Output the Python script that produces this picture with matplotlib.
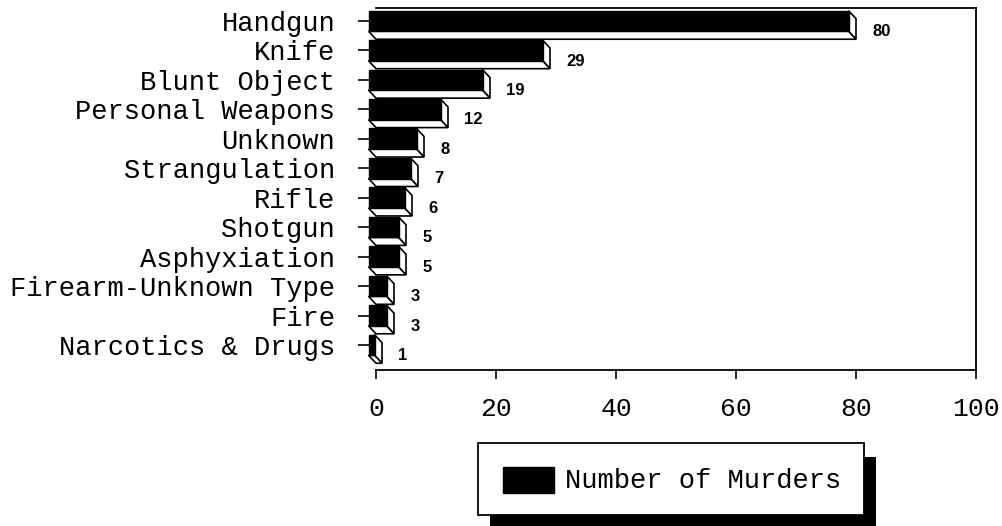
import matplotlib
matplotlib.use("Agg")
import matplotlib.pyplot as plt
from matplotlib.patches import Polygon, Rectangle

categories = ["Handgun", "Knife", "Blunt Object", "Personal Weapons", "Unknown",
              "Strangulation", "Rifle", "Shotgun", "Asphyxiation",
              "Firearm-Unknown Type", "Fire", "Narcotics & Drugs"]
murders = [80, 29, 19, 12, 8, 7, 6, 5, 5, 3, 3, 1]
x_ticks = [0, 20, 40, 60, 80, 100]
series_name = "Number of Murders"

W, H = 1002, 526
LABEL_FONT = "Liberation Mono"

fig = plt.figure(figsize=(W / 100, H / 100), dpi=100)
ax = fig.add_axes([376 / W, (H - 370) / H, 600 / W, 362 / H])
ax.spines["left"].set_position(("outward", 5.0))
ax.spines["left"].set_visible(False)
ax.set_xlim(0, 100)
ax.set_ylim(11.85, -0.44)

dx = 1.25   # depth in x (data units)
dy = 0.27   # depth in y (data units)
h = 0.70    # front face height

ypos = list(range(len(categories)))
ax.barh(ypos, murders, left=-dx, height=h, color="black", edgecolor="black",
        linewidth=1.0, clip_on=False, zorder=3)
for c, v in zip(ypos, murders):
    top = c - h / 2
    bot = c + h / 2
    side = Polygon([(v - dx, top), (v, top + dy), (v, bot + dy), (v - dx, bot)],
                   closed=True, facecolor="white", edgecolor="black",
                   linewidth=1.2, clip_on=False, zorder=2)
    bottom = Polygon([(-dx, bot), (v - dx, bot), (v, bot + dy), (0, bot + dy)],
                     closed=True, facecolor="white", edgecolor="black",
                     linewidth=1.2, clip_on=False, zorder=2)
    ax.add_patch(side)
    ax.add_patch(bottom)
    ax.text(v + 2.7, c + 0.36, str(v), ha="left", va="center",
            fontsize=12, fontweight="bold", family="Liberation Sans")

ax.set_yticks(ypos)
ax.set_yticklabels(categories, fontsize=19.5, family=LABEL_FONT)
ax.set_xticks(x_ticks)
ax.set_xticklabels([str(t) for t in x_ticks], fontsize=19, family=LABEL_FONT)

for s in ["top", "right", "bottom"]:
    ax.spines[s].set_linewidth(1.3)
ax.tick_params(axis="y", length=7.9, width=1.2, pad=16.5)
ax.tick_params(axis="x", length=6.5, width=1.2, pad=13.0)


def fx(px):
    return px / W


def fy(py):
    return (H - py) / H


# legend with drop shadow
shadow = Rectangle((fx(490), fy(560)), fx(876) - fx(490), fy(457) - fy(560),
                   transform=fig.transFigure, facecolor="black", edgecolor="none")
box = Rectangle((fx(478), fy(515)), fx(864) - fx(478), fy(443) - fy(515),
                transform=fig.transFigure, facecolor="white", edgecolor="black",
                linewidth=1.3)
swatch = Rectangle((fx(503), fy(493)), fx(554) - fx(503), fy(467) - fy(493),
                   transform=fig.transFigure, facecolor="black", edgecolor="black")
fig.add_artist(shadow)
fig.add_artist(box)
fig.add_artist(swatch)
fig.text(fx(565), fy(481), series_name, ha="left", va="center",
         fontsize=19.5, family=LABEL_FONT)

fig.savefig("out.png", dpi=100)
